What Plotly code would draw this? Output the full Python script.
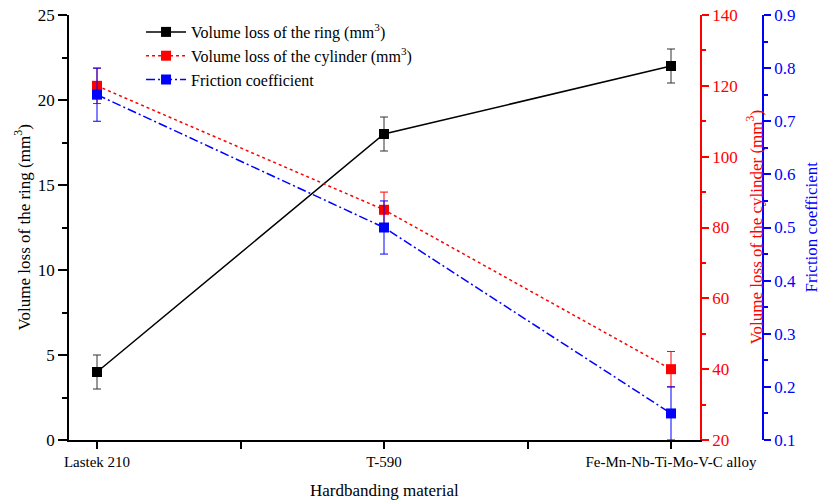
import plotly.graph_objects as go

categories = ["Lastek 210", "T-590", "Fe-Mn-Nb-Ti-Mo-V-C alloy"]
ring_loss = [4, 18, 22]
ring_err = [1, 1, 1]
cyl_loss = [120, 85, 40]
cyl_err = [5, 5, 5]
friction = [0.75, 0.5, 0.15]
friction_err = [0.05, 0.05, 0.05]

xpos = list(range(len(categories)))

FONT = "Liberation Serif, Times New Roman, serif"

fig = go.Figure()
fig.add_trace(go.Scatter(
    x=xpos, y=ring_loss, name="Volume loss of the ring (mm<sup>3</sup>)",
    mode="lines+markers", line=dict(color="black", width=1.5),
    marker=dict(symbol="square", size=10, color="black"),
    error_y=dict(type="data", array=ring_err, color="#333333", thickness=1, width=4),
    yaxis="y"))
fig.add_trace(go.Scatter(
    x=xpos, y=cyl_loss, name="Volume loss of the cylinder (mm<sup>3</sup>)",
    mode="lines+markers", line=dict(color="red", width=1.5, dash="3px,3px"),
    marker=dict(symbol="square", size=10, color="red"),
    error_y=dict(type="data", array=cyl_err, color="red", thickness=1, width=4),
    yaxis="y2"))
fig.add_trace(go.Scatter(
    x=xpos, y=friction, name="Friction coefficient",
    mode="lines+markers", line=dict(color="blue", width=1.5, dash="9px,3px,2px,3px"),
    marker=dict(symbol="square", size=10, color="blue"),
    error_y=dict(type="data", array=friction_err, color="blue", thickness=1, width=4),
    yaxis="y3"))

dom_end = 631 / 694

annos = [
    dict(text="Volume loss of the ring (mm<sup>3</sup>)", x=0, y=0.5, xref="paper", yref="paper",
         xanchor="center", yanchor="middle", xshift=-47, textangle=-90, showarrow=False,
         font=dict(size=17, family=FONT, color="black")),
    dict(text="Volume loss of the cylinder (mm<sup>3</sup>)", x=dom_end, y=0.5, xref="paper", yref="paper",
         xanchor="center", yanchor="middle", xshift=54, textangle=-90, showarrow=False,
         font=dict(size=17, family=FONT, color="red")),
    dict(text="Friction coefficient", x=1, y=0.5, xref="paper", yref="paper",
         xanchor="center", yanchor="middle", xshift=48, textangle=-90, showarrow=False,
         font=dict(size=17, family=FONT, color="blue")),
    dict(text="Hardbanding material", x=dom_end / 2, y=0, xref="paper", yref="paper",
         xanchor="center", yanchor="middle", yshift=-50, showarrow=False,
         font=dict(size=17, family=FONT, color="black")),
]

fig.update_layout(
    width=819, height=501,
    margin=dict(l=69, r=56, t=15, b=61, autoexpand=False),
    paper_bgcolor="white", plot_bgcolor="white",
    font=dict(family=FONT, size=17, color="black"),
    showlegend=True,
    annotations=annos,
    legend=dict(x=0.1038, y=1.0, xanchor="left", yanchor="top",
                bgcolor="rgba(0,0,0,0)", font=dict(size=16, family=FONT),
                tracegroupgap=0, itemwidth=40),
    xaxis=dict(domain=[0, dom_end], range=[-28/287, 2 + 29/287], automargin=False,
               tickvals=xpos, ticktext=categories,
               showline=True, linecolor="black", linewidth=1.5,
               ticks="outside", ticklen=7, tickwidth=1.5, tickcolor="black",
               minor=dict(tickvals=[0.5, 1.5], ticks="outside", ticklen=7, tickwidth=1.5, tickcolor="black"),
               showgrid=False, zeroline=False, ticklabeloverflow="allow",
               tickfont=dict(size=15, family=FONT)),
    yaxis=dict(range=[0, 25], dtick=5, tick0=0, automargin=False,
               showline=True, linecolor="black", linewidth=1.5,
               ticks="outside", ticklen=9, tickwidth=1.5, tickcolor="black",
               minor=dict(dtick=2.5, ticks="outside", ticklen=5, tickwidth=1.5, tickcolor="black"),
               showgrid=False, zeroline=False, ticklabeloverflow="allow",
               tickfont=dict(size=17, family=FONT)),
    yaxis2=dict(range=[20, 140], dtick=20, tick0=20, overlaying="y", side="right", anchor="x",
                automargin=False,
                showline=True, linecolor="red", linewidth=1.5,
                ticks="outside", ticklen=7, tickwidth=1.5, tickcolor="red",
                minor=dict(dtick=10, ticks="outside", ticklen=4, tickwidth=1.5, tickcolor="red"),
                showgrid=False, zeroline=False, ticklabeloverflow="allow",
                tickfont=dict(size=17, family=FONT, color="red")),
    yaxis3=dict(range=[0.1, 0.9], dtick=0.1, tick0=0.1, overlaying="y", side="right",
                anchor="free", position=1, automargin=False,
                showline=True, linecolor="blue", linewidth=1.5,
                ticks="outside", ticklen=7, tickwidth=1.5, tickcolor="blue",
                minor=dict(dtick=0.05, ticks="outside", ticklen=4, tickwidth=1.5, tickcolor="blue"),
                showgrid=False, zeroline=False, ticklabeloverflow="allow",
                tickfont=dict(size=17, family=FONT, color="blue")),
)

fig.write_html("out.html", config={"displayModeBar": False},
               post_script="document.body.style.margin='0';")
